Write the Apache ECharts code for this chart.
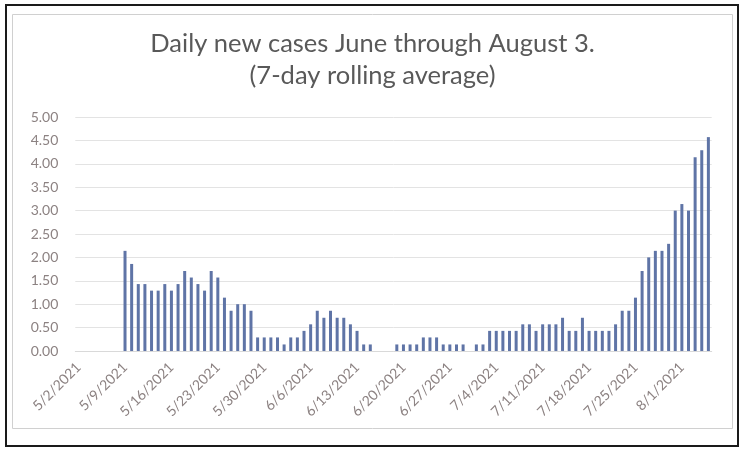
<!DOCTYPE html>
<html><head><meta charset="utf-8">
<script src="https://cdn.jsdelivr.net/npm/echarts@6/dist/echarts.min.js"></script>
<style>html,body{margin:0;padding:0;background:#fff}#c{width:745px;height:451px}</style>
</head><body><div id="c"></div>
<script>
const titleLines = ["Daily new cases June through August 3.", "(7-day rolling average)"];
const dates = [
"5/2/2021","5/3/2021","5/4/2021","5/5/2021","5/6/2021","5/7/2021","5/8/2021",
"5/9/2021","5/10/2021","5/11/2021","5/12/2021","5/13/2021","5/14/2021","5/15/2021",
"5/16/2021","5/17/2021","5/18/2021","5/19/2021","5/20/2021","5/21/2021","5/22/2021",
"5/23/2021","5/24/2021","5/25/2021","5/26/2021","5/27/2021","5/28/2021","5/29/2021",
"5/30/2021","5/31/2021","6/1/2021","6/2/2021","6/3/2021","6/4/2021","6/5/2021",
"6/6/2021","6/7/2021","6/8/2021","6/9/2021","6/10/2021","6/11/2021","6/12/2021",
"6/13/2021","6/14/2021","6/15/2021","6/16/2021","6/17/2021","6/18/2021","6/19/2021",
"6/20/2021","6/21/2021","6/22/2021","6/23/2021","6/24/2021","6/25/2021","6/26/2021",
"6/27/2021","6/28/2021","6/29/2021","6/30/2021","7/1/2021","7/2/2021","7/3/2021",
"7/4/2021","7/5/2021","7/6/2021","7/7/2021","7/8/2021","7/9/2021","7/10/2021",
"7/11/2021","7/12/2021","7/13/2021","7/14/2021","7/15/2021","7/16/2021","7/17/2021",
"7/18/2021","7/19/2021","7/20/2021","7/21/2021","7/22/2021","7/23/2021","7/24/2021",
"7/25/2021","7/26/2021","7/27/2021","7/28/2021","7/29/2021","7/30/2021","7/31/2021",
"8/1/2021","8/2/2021","8/3/2021","8/4/2021","8/5/2021"];
const cases = [
null,null,null,null,null,null,null,
2.14,1.86,1.43,1.43,1.29,1.29,1.43,
1.29,1.43,1.71,1.57,1.43,1.29,1.71,
1.57,1.14,0.86,1.00,1.00,0.86,0.29,
0.29,0.29,0.29,0.14,0.29,0.29,0.43,
0.57,0.86,0.71,0.86,0.71,0.71,0.57,
0.43,0.14,0.14,0,0,0,0.14,
0.14,0.14,0.14,0.29,0.29,0.29,0.14,
0.14,0.14,0.14,0,0.14,0.14,0.43,
0.43,0.43,0.43,0.43,0.57,0.57,0.43,
0.57,0.57,0.57,0.71,0.43,0.43,0.71,
0.43,0.43,0.43,0.43,0.57,0.86,0.86,
1.14,1.71,2.00,2.14,2.14,2.29,3.00,
3.14,3.00,4.14,4.29,4.57];
const yTicks = ["0.00","0.50","1.00","1.50","2.00","2.50","3.00","3.50","4.00","4.50","5.00"];

const chart = echarts.init(document.getElementById('c'), null, {renderer:'canvas'});
const font = 'Lato, "Open Sans", sans-serif';
chart.setOption({
  backgroundColor:'#ffffff',
  animation:false,
  graphic:[
    {type:'rect', shape:{x:6,y:5,width:732,height:441}, style:{fill:'none',stroke:'#1a1a1a',lineWidth:2}, z:-1},
    {type:'rect', shape:{x:12.5,y:14.5,width:720,height:414}, style:{fill:'none',stroke:'#d0d0d0',lineWidth:1}, z:-1}
  ],
  title:{
    text: titleLines.join('\n'), left:'center', top:23,
    textStyle:{fontFamily:font, fontSize:25.5, fontWeight:'normal', color:'#595959', lineHeight:32}
  },
  grid:{left:75.3, right:33.3, top:117, bottom:100},
  xAxis:{
    type:'category', data:dates,
    axisTick:{show:false},
    axisLine:{lineStyle:{color:'#d9d9d9'}},
    axisLabel:{interval:6, rotate:45, color:'#8c8282', fontFamily:font, fontSize:14, margin:14}
  },
  yAxis:{
    type:'value', min:0, max:5, interval:0.5,
    axisLabel:{color:'#8c8282', fontFamily:font, fontSize:14, margin:17,
      formatter:function(v){ return yTicks[Math.round(v/0.5)]; }},
    splitLine:{lineStyle:{color:'#e3e3e3'}},
    axisLine:{show:false}, axisTick:{show:false}
  },
  series:[{type:'bar', data:cases, barWidth:3, itemStyle:{color:'#5f74a6'}}]
});
</script></body></html>
